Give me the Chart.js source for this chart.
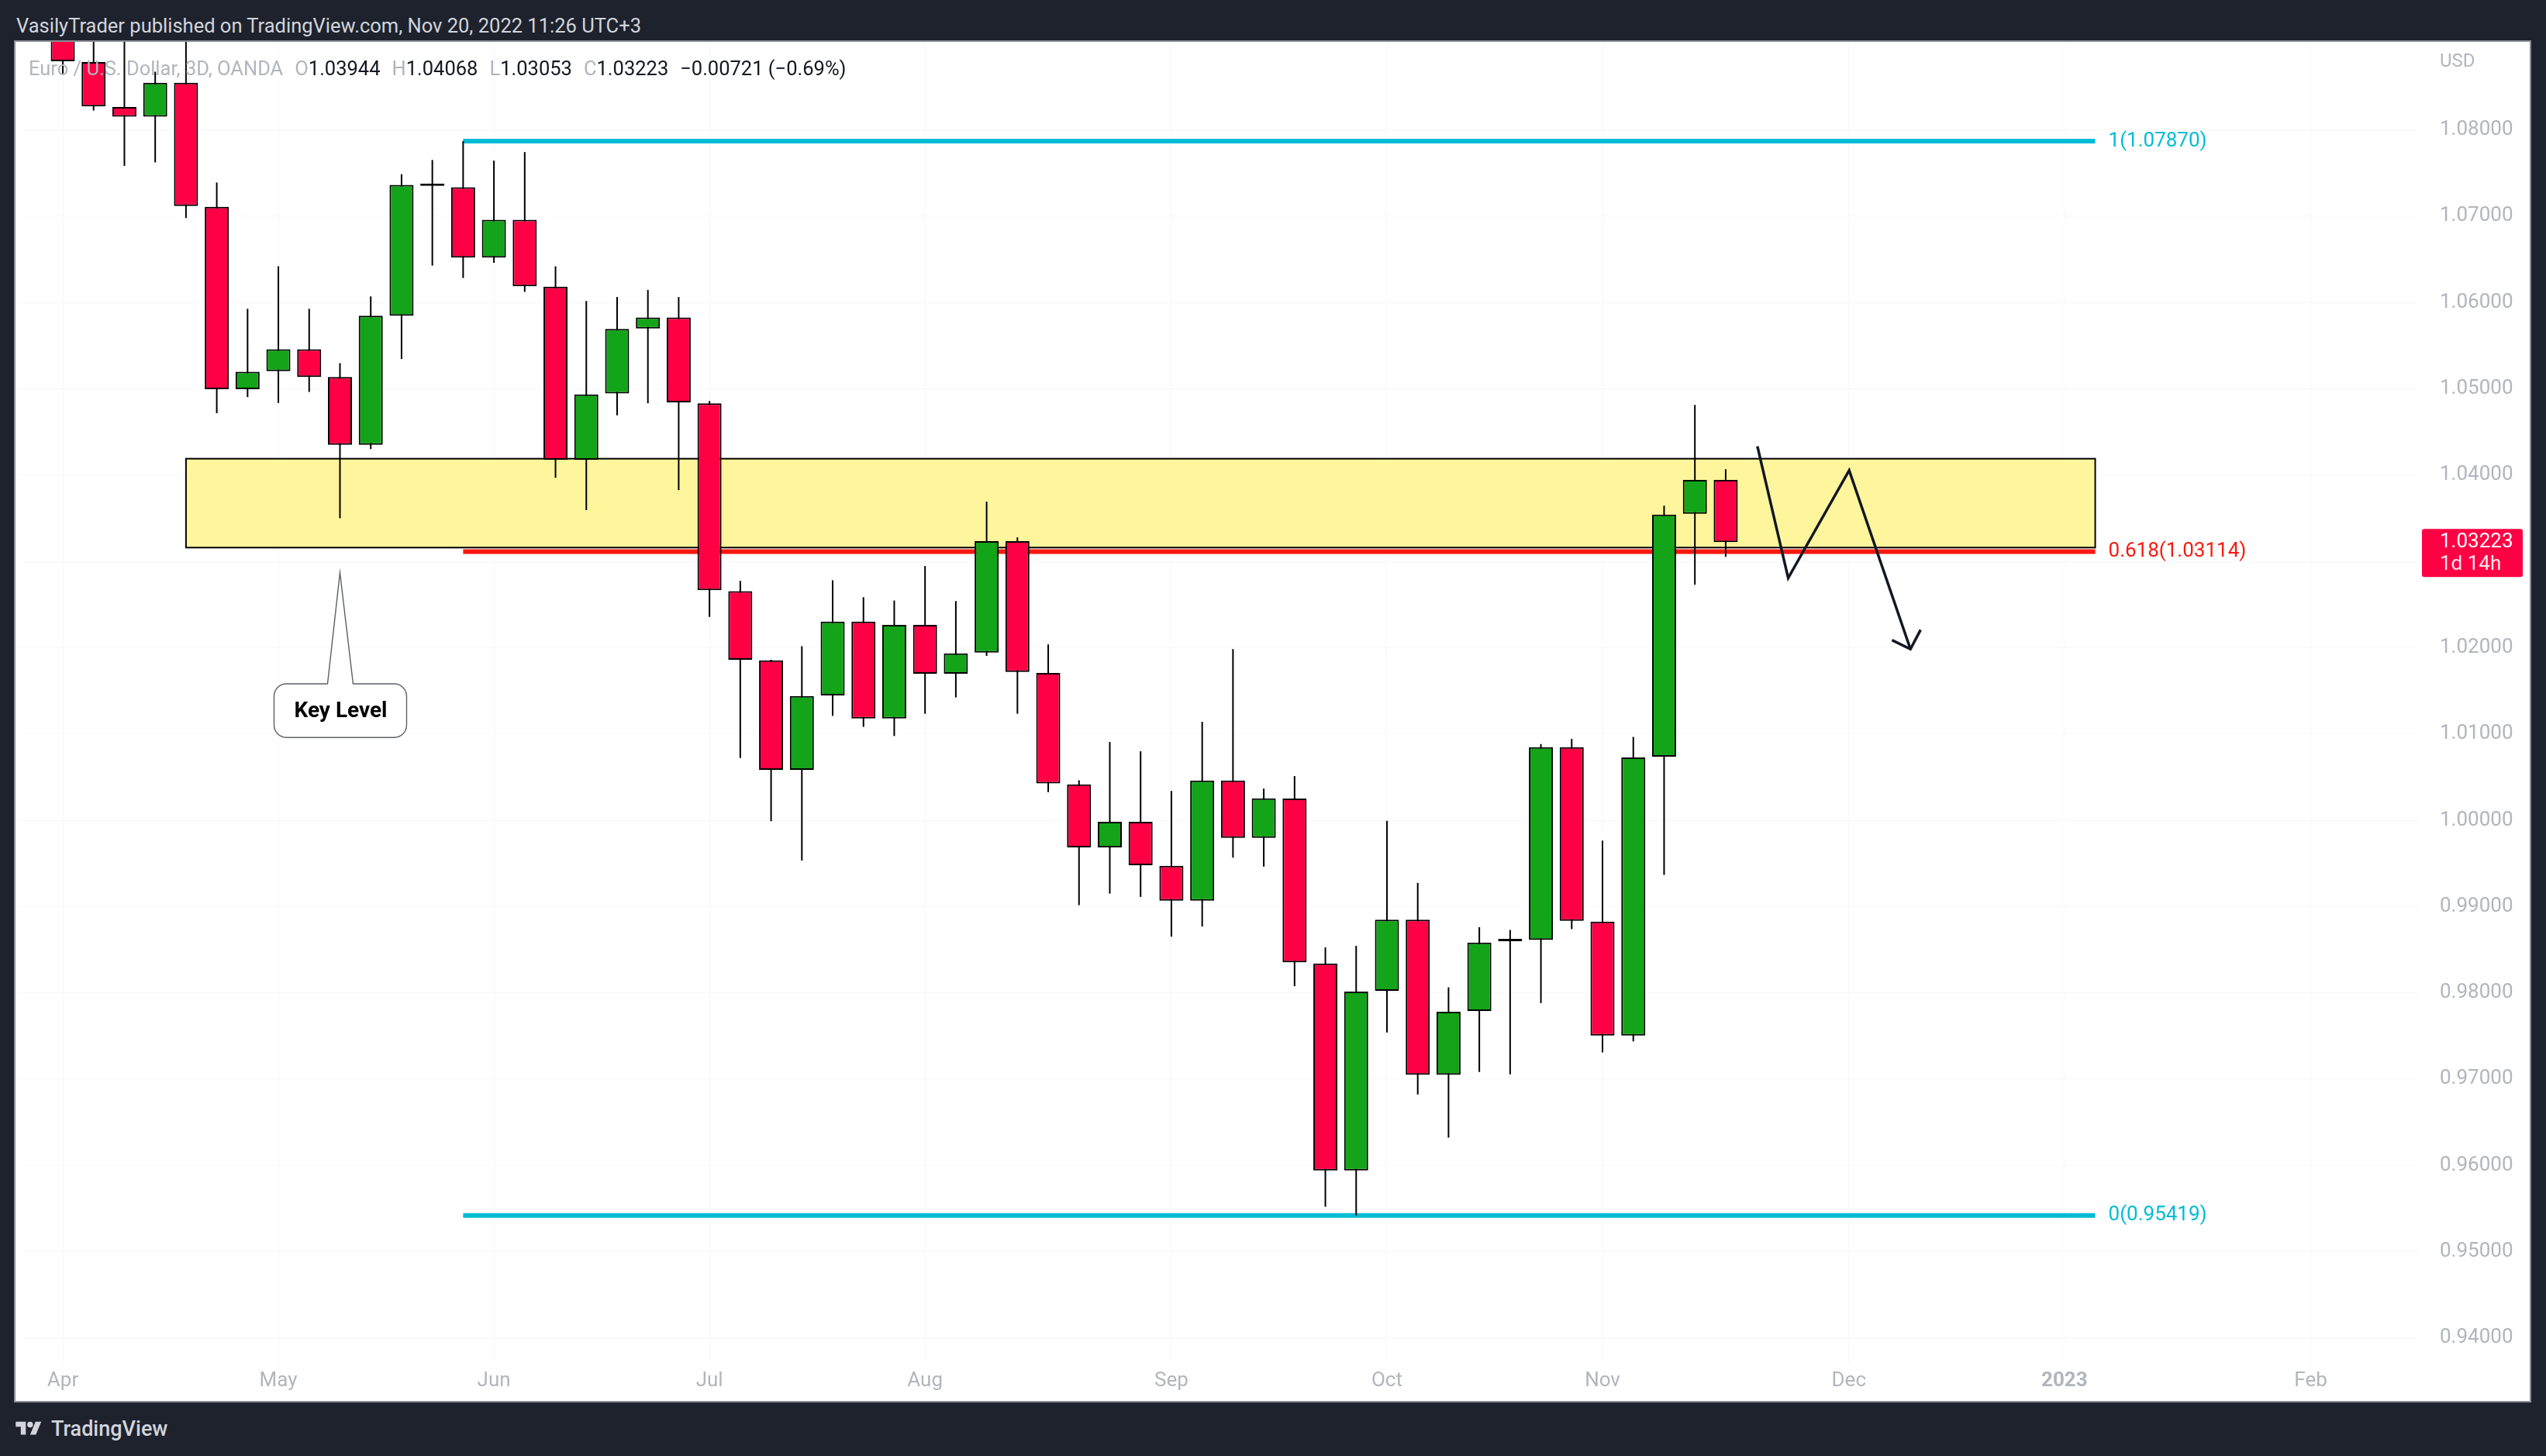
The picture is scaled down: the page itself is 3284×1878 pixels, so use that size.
<!DOCTYPE html>
<html>
<head>
<meta charset="utf-8">
<script src="https://cdn.jsdelivr.net/npm/chart.js@4.4.1/dist/chart.umd.min.js"></script>
<style>
  html, body { margin:0; padding:0; width:3284px; height:1878px; background:#1e222d; overflow:hidden; font-family: Roboto, "Noto Sans", sans-serif; }
  #hdr { position:absolute; left:21px; top:14px; height:38px; line-height:38px; font-size:25.5px; color:#d1d4dc; white-space:nowrap; }
  #panel { position:absolute; left:18px; top:52px; width:3247px; height:1757px; box-sizing:border-box; border:2px solid #8a8d96; background:#ffffff; }
  #chart { position:absolute; left:0; top:0; }
  #legend { position:absolute; left:17px; top:18px; font-size:25.5px; line-height:32px; white-space:nowrap; color:#131722; }
  #legend .g { color:#b2b5be; }
  #legend .sp { display:inline-block; width:15px; }
  #footer { position:absolute; left:20px; top:1828px; height:30px; display:flex; align-items:center; color:#d1d4dc; font-size:27px; font-weight:500; }
  #footer svg { margin-right:12px; }
</style>
</head>
<body>
<div id="hdr">VasilyTrader published on TradingView.com, Nov 20, 2022 11:26 UTC+3</div>
<div id="panel">
  <canvas id="chart" width="3243" height="1753"></canvas>
  <div id="legend"></div>
</div>
<div id="footer"><svg width="34" height="26" viewBox="0 0 36 28"><path fill="#d1d4dc" d="M14 22H7V11H0V4h14v18zM28 22h-8l7.5-18h8L28 22z"/><circle fill="#d1d4dc" cx="20" cy="8" r="4"/></svg><span>TradingView</span></div>
<script>
// ---------------- data ----------------
const symbolName = 'Euro / U.S. Dollar, 3D, OANDA';
const candleOpen  = [1.0972, 1.08787, 1.08265, 1.08153, 1.08546, 1.07110, 1.04996, 1.05205, 1.05458, 1.05137, 1.04351, 1.05847, 1.07351, 1.07335, 1.06521, 1.06958, 1.06183, 1.04177, 1.04945, 1.05698, 1.05827, 1.04832, 1.02654, 1.01852, 1.00584, 1.01447, 1.02303, 1.01179, 1.02265, 1.01698, 1.01942, 1.03235, 1.01708, 1.00415, 0.99686, 0.99982, 0.99473, 0.99067, 1.00460, 0.99796, 1.00252, 0.98339, 0.95942, 0.98023, 0.98848, 0.97051, 0.97789, 0.98598, 0.98614, 1.00847, 0.98825, 0.97505, 1.00736, 1.03552, 1.03944];
const candleHigh  = [1.0990, 1.0936, 1.0925, 1.08674, 1.0937, 1.07391, 1.05927, 1.06420, 1.05927, 1.05297, 1.06071, 1.07487, 1.07652, 1.07870, 1.07644, 1.07744, 1.06420, 1.06018, 1.06064, 1.06147, 1.06064, 1.04858, 1.02774, 1.01860, 1.02018, 1.02781, 1.02585, 1.02547, 1.02946, 1.02540, 1.03692, 1.03279, 1.02038, 1.00463, 1.00907, 1.00800, 1.00340, 1.01141, 1.01983, 1.00367, 1.00512, 0.98527, 0.98545, 0.99994, 0.99274, 0.98064, 0.98761, 0.98729, 1.00883, 1.00943, 0.99765, 1.00966, 1.03645, 1.04813, 1.04068];
const candleLow   = [1.08654, 1.08225, 1.07583, 1.07624, 1.06978, 1.04716, 1.04904, 1.04836, 1.04964, 1.03500, 1.04302, 1.05345, 1.06428, 1.06284, 1.06460, 1.06124, 1.03970, 1.03594, 1.04693, 1.04832, 1.03826, 1.02356, 1.00721, 0.99989, 0.99532, 1.01210, 1.01082, 1.00976, 1.01234, 1.01423, 1.01904, 1.01234, 1.00326, 0.99016, 0.99150, 0.99112, 0.98651, 0.98768, 0.99566, 0.99463, 0.98078, 0.95520, 0.95419, 0.97541, 0.96822, 0.96322, 0.97083, 0.97055, 0.97882, 0.98738, 0.97308, 0.97436, 0.99366, 1.02729, 1.03053];
const candleClose = [1.08795, 1.08273, 1.08153, 1.08546, 1.07118, 1.04996, 1.05197, 1.05458, 1.05137, 1.04351, 1.05847, 1.07363, 1.07360, 1.06521, 1.06958, 1.06188, 1.04177, 1.04935, 1.05693, 1.05827, 1.04842, 1.02666, 1.01859, 1.00584, 1.01440, 1.02303, 1.01179, 1.02265, 1.01698, 1.01935, 1.03235, 1.01718, 1.00426, 0.99686, 0.99982, 0.99480, 0.99067, 1.00460, 0.99796, 1.00254, 0.98353, 0.95942, 0.98014, 0.98848, 0.97051, 0.97780, 0.98582, 0.98602, 1.00847, 0.98834, 0.97505, 1.00727, 1.03543, 1.03944, 1.03223];

const monthTickIndex = [0, 7, 14, 21, 28, 36, 43, 50, 58, 65, 73];
const monthTickLabel = ['Apr', 'May', 'Jun', 'Jul', 'Aug', 'Sep', 'Oct', 'Nov', 'Dec', '2023', 'Feb'];
const priceTicks = [0.94, 0.95, 0.96, 0.97, 0.98, 0.99, 1.00, 1.01, 1.02, 1.03, 1.04, 1.05, 1.06, 1.07, 1.08];

const fibLevels = [1, 0.618, 0];
const fibPrices = [1.07870, 1.03114, 0.95419];
const fibFrom = 13, fibTo = 66;

const zoneFrom = 4, zoneTo = 66;
const zoneTop = 1.0419, zoneBottom = 1.0316;

const arrowPathX = [55.03, 56.03, 58.01, 60.0];
const arrowPathY = [1.04334, 1.02807, 1.04055, 1.01983];
const arrowHeadX = [59.40, 60.0, 60.33];
const arrowHeadY = [1.02088, 1.01983, 1.02207];

const keyLevelX = 9, keyLevelY = 1.0287;
const keyLevelText = 'Key Level';
const barTimer = '1d 14h';

// ---------------- styles ----------------
const UP = '#13a419', DOWN = '#ff0044';
const fibColors = ['#00bcd4', '#f7190f', '#00bcd4'];
const AXIS_TXT = '#b2b5be';
const GRID = 'rgba(42,46,57,0.035)';
const FONT = 'Roboto';

// ---------------- legend ----------------
const n = candleClose.length;
const last = n - 1;
const chg = candleClose[last] - candleClose[last - 1];
const pct = chg / candleClose[last - 1] * 100;
const fmt = v => (v < 0 ? '\u2212' : '') + Math.abs(v).toFixed(5);
document.getElementById('legend').innerHTML =
  `<span class="g">${symbolName}</span><span class="sp"></span>` +
  `<span class="g">O</span>${candleOpen[last].toFixed(5)}<span class="sp"></span>` +
  `<span class="g">H</span>${candleHigh[last].toFixed(5)}<span class="sp"></span>` +
  `<span class="g">L</span>${candleLow[last].toFixed(5)}<span class="sp"></span>` +
  `<span class="g">C</span>${candleClose[last].toFixed(5)}<span class="sp"></span>` +
  `${fmt(chg)} (${(pct < 0 ? '\u2212' : '') + Math.abs(pct).toFixed(2)}%)`;

// ---------------- datasets ----------------
const idx = candleOpen.map((_, i) => i);
const wickData = idx.map(i => ({ x: i, y: [candleLow[i], candleHigh[i]] }));
const bodyData = idx.map(i => ({ x: i, y: [candleOpen[i], candleClose[i]] }));
const bodyColors = idx.map(i => candleClose[i] >= candleOpen[i] ? UP : DOWN);

const fibSets = fibPrices.map((p, k) => ({
  type: 'line',
  data: [{ x: fibFrom, y: p }, { x: fibTo, y: p }],
  borderColor: fibColors[k], borderWidth: 6, pointRadius: 0,
  borderCapStyle: 'butt', order: 3
}));

const overlay = {
  id: 'overlay',
  beforeDatasetsDraw(chart) {
    const { ctx, scales: { x, y } } = chart;
    const x0 = x.getPixelForValue(zoneFrom), x1 = x.getPixelForValue(zoneTo);
    const y0 = y.getPixelForValue(zoneTop), y1 = y.getPixelForValue(zoneBottom);
    ctx.save();
    ctx.fillStyle = '#fff59d';
    ctx.fillRect(x0, y0, x1 - x0, y1 - y0);
    ctx.strokeStyle = '#000000';
    ctx.lineWidth = 2;
    ctx.strokeRect(x0, y0, x1 - x0, y1 - y0);
    ctx.restore();
  },
  afterDatasetsDraw(chart) {
    const { ctx, scales: { x, y } } = chart;
    ctx.save();
    ctx.font = `26px ${FONT}`;
    ctx.textAlign = 'left';
    ctx.textBaseline = 'middle';
    fibPrices.forEach((p, k) => {
      ctx.fillStyle = fibColors[k];
      ctx.fillText(`${fibLevels[k]}(${p.toFixed(5)})`, x.getPixelForValue(fibTo) + 17, y.getPixelForValue(p));
    });
    const tx = x.getPixelForValue(keyLevelX), ty = y.getPixelForValue(keyLevelY);
    const L = tx - 85, R = tx + 86, T = ty + 143.5, B = ty + 212.7, r = 16;
    ctx.beginPath();
    ctx.moveTo(L + r, T);
    ctx.lineTo(tx - 16, T);
    ctx.lineTo(tx, ty);
    ctx.lineTo(tx + 17, T);
    ctx.lineTo(R - r, T);
    ctx.arcTo(R, T, R, T + r, r);
    ctx.lineTo(R, B - r);
    ctx.arcTo(R, B, R - r, B, r);
    ctx.lineTo(L + r, B);
    ctx.arcTo(L, B, L, B - r, r);
    ctx.lineTo(L, T + r);
    ctx.arcTo(L, T, L + r, T, r);
    ctx.closePath();
    ctx.fillStyle = '#ffffff';
    ctx.fill();
    ctx.strokeStyle = '#5d606b';
    ctx.lineWidth = 1.4;
    ctx.stroke();
    ctx.fillStyle = '#000000';
    ctx.font = `bold 28px ${FONT}`;
    ctx.textAlign = 'center';
    ctx.fillText(keyLevelText, tx + 1, (T + B) / 2 + 1);
    ctx.restore();
  },
  afterDraw(chart) {
    const { ctx, chartArea, scales: { y } } = chart;
    ctx.save();
    const lx = chartArea.right + 27;
    ctx.font = `24px ${FONT}`;
    ctx.fillStyle = AXIS_TXT;
    ctx.textAlign = 'left';
    ctx.textBaseline = 'middle';
    ctx.fillText('USD', lx, 26);
    const py = y.getPixelForValue(candleClose[last]);
    const tx0 = chartArea.right + 4, tw = 130, ty0 = py - 17, th = 62;
    ctx.fillStyle = DOWN;
    ctx.beginPath();
    ctx.roundRect(tx0, ty0, tw, th, 3);
    ctx.fill();
    ctx.fillStyle = '#ffffff';
    ctx.font = `26px ${FONT}`;
    ctx.fillText(candleClose[last].toFixed(5), lx, py);
    ctx.fillStyle = 'rgba(255,255,255,0.9)';
    ctx.fillText(barTimer, lx, py + 29);
    ctx.restore();
  }
};

Chart.defaults.font.family = FONT;

const zeroPad = s => { s.paddingTop = 0; s.paddingBottom = 0; s.paddingLeft = 0; s.paddingRight = 0; };

new Chart(document.getElementById('chart'), {
  type: 'bar',
  data: {
    datasets: [
      {
        type: 'line',
        data: arrowPathX.map((v, i) => ({ x: v, y: arrowPathY[i] })),
        borderColor: '#131722', borderWidth: 3.5, pointRadius: 0, tension: 0,
        borderJoinStyle: 'miter', order: 0
      },
      {
        type: 'line',
        data: arrowHeadX.map((v, i) => ({ x: v, y: arrowHeadY[i] })),
        borderColor: '#131722', borderWidth: 3.5, pointRadius: 0, tension: 0,
        borderJoinStyle: 'miter', order: 0
      },
      {
        data: bodyData, backgroundColor: bodyColors, borderColor: '#000000',
        borderWidth: 2, borderSkipped: false, barThickness: 31, maxBarThickness: 31,
        grouped: false, minBarLength: 3, inflateAmount: 0, order: 1
      },
      {
        data: wickData, backgroundColor: '#000000', borderWidth: 0,
        barThickness: 2, maxBarThickness: 2, grouped: false, inflateAmount: 0, order: 2
      },
      ...fibSets
    ]
  },
  options: {
    responsive: false,
    animation: false,
    devicePixelRatio: 1,
    events: [],
    layout: { padding: 0 },
    plugins: { legend: { display: false }, tooltip: { enabled: false } },
    scales: {
      x: {
        type: 'linear', position: 'bottom', min: -1.536, max: 76.51, offset: false,
        grid: { offset: false, color: GRID, drawTicks: false },
        border: { display: false },
        afterBuildTicks: s => { s.ticks = monthTickIndex.map(v => ({ value: v })); },
        afterFit: s => { s.height = 47; zeroPad(s); },
        ticks: {
          autoSkip: false, maxRotation: 0, minRotation: 0, padding: 6, color: AXIS_TXT,
          font: c => ({ family: FONT, size: 26, weight: monthTickLabel[c.index] === '2023' ? 'bold' : 'normal' }),
          callback: (v, i) => monthTickLabel[i]
        }
      },
      y: {
        type: 'linear', position: 'right', min: 0.936927, max: 1.090207, beginAtZero: false,
        grid: { color: GRID, drawTicks: false },
        border: { display: false },
        afterBuildTicks: s => { s.ticks = priceTicks.map(v => ({ value: v })); },
        afterFit: s => { s.width = 143; zeroPad(s); },
        ticks: {
          padding: 27, color: AXIS_TXT, crossAlign: 'near',
          font: { family: FONT, size: 26 },
          callback: v => v.toFixed(5)
        }
      }
    }
  },
  plugins: [overlay]
});
</script>
</body>
</html>
